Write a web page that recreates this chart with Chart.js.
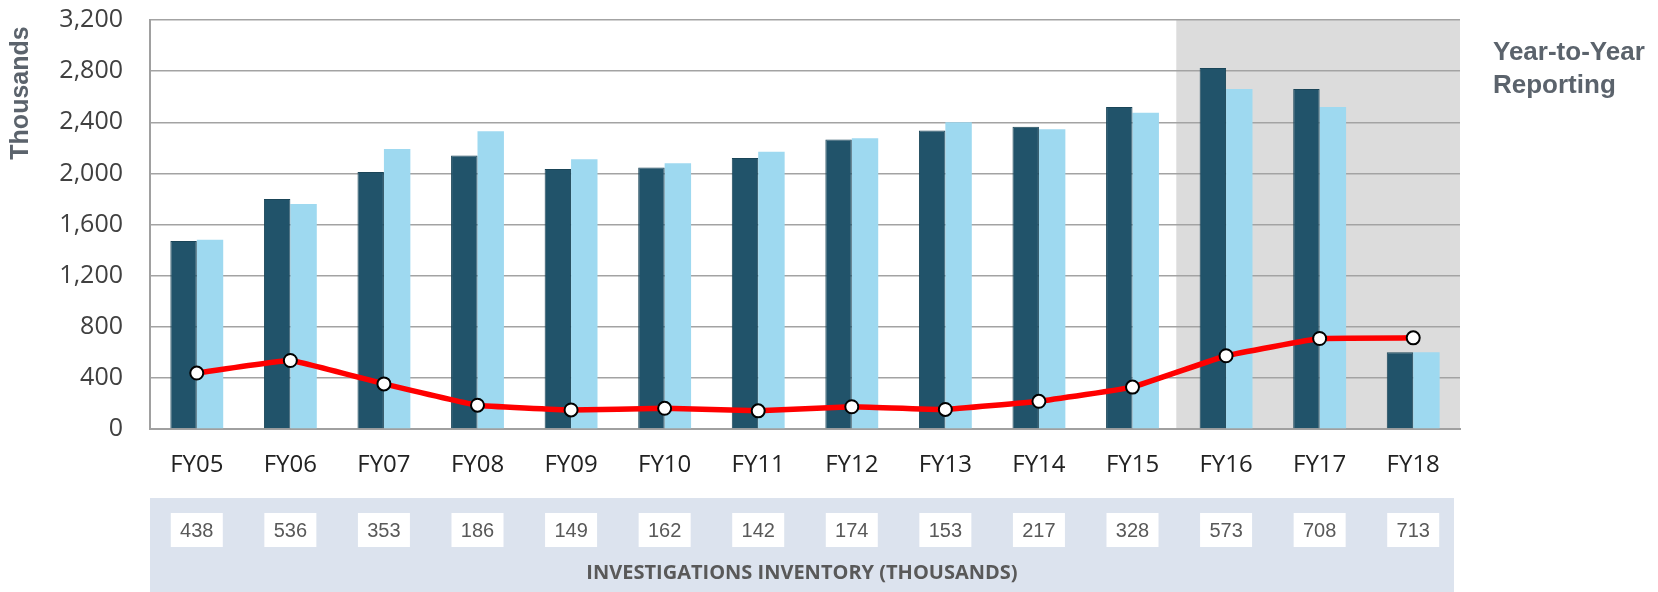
<!DOCTYPE html>
<html>
<head>
<meta charset="utf-8">
<script src="https://cdn.jsdelivr.net/npm/chart.js@4.4.1/dist/chart.umd.min.js"></script>
<style>
  html, body { margin:0; padding:0; background:#fff; }
  #wrap { width:1658px; height:592px; position:relative; }
</style>
</head>
<body>
<div id="wrap"><canvas id="chart"></canvas></div>
<script>
/* ---- data ---- */
const years      = ['FY05','FY06','FY07','FY08','FY09','FY10','FY11','FY12','FY13','FY14','FY15','FY16','FY17','FY18'];
const receipts   = [1470, 1800, 2010, 2140, 2035, 2045, 2120, 2265, 2335, 2365, 2520, 2825, 2660, 600];
const closures   = [1480, 1760, 2190, 2330, 2110, 2080, 2170, 2275, 2400, 2345, 2475, 2660, 2520, 600];
const inventory  = [438, 536, 353, 186, 149, 162, 142, 174, 153, 217, 328, 573, 708, 713];
const yTicks     = [0, 400, 800, 1200, 1600, 2000, 2400, 2800, 3200];
const shadeFrom  = 'FY16';

const GREY_TXT = '#5b636c';

/* ---- extras: shaded block, side note, axis title, inventory strip ---- */
const decor = {
  id: 'decor',
  beforeDraw(chart) {
    const { ctx, chartArea: a, scales: { x } } = chart;
    const i  = years.indexOf(shadeFrom);
    const x0 = (x.getPixelForValue(i - 1) + x.getPixelForValue(i)) / 2 - 3;
    ctx.save();
    ctx.fillStyle = '#dcdcdc';
    ctx.fillRect(x0, a.top, a.right - x0, a.bottom - a.top);
    ctx.restore();
  },
  afterDraw(chart) {
    const { ctx, chartArea: a, scales: { x } } = chart;
    ctx.save();

    // Thousands (rotated)
    ctx.translate(21, 93);
    ctx.rotate(-Math.PI / 2);
    ctx.fillStyle = GREY_TXT;
    ctx.font = 'bold 25px "Liberation Sans", Arial, sans-serif';
    ctx.textAlign = 'center';
    ctx.textBaseline = 'middle';
    ctx.fillText('Thousands', 0, 0, 134);
    ctx.setTransform(1, 0, 0, 1, 0, 0);

    // side note
    ctx.font = 'bold 26px "Liberation Sans", Arial, sans-serif';
    ctx.textAlign = 'left';
    ctx.textBaseline = 'alphabetic';
    ctx.fillText('Year-to-Year', a.right + 33, 60, 160);
    ctx.fillText('Reporting', a.right + 33, 93);

    // inventory strip
    const stripTop = 498;
    ctx.fillStyle = '#dce3ee';
    ctx.fillRect(a.left, stripTop, 1454 - a.left, 592 - stripTop);

    ctx.font = '20px "Liberation Sans Narrow", "Liberation Sans", Arial, sans-serif';
    ctx.textAlign = 'center';
    ctx.textBaseline = 'middle';
    inventory.forEach((v, i) => {
      const cx = x.getPixelForValue(i);
      ctx.fillStyle = '#ffffff';
      ctx.fillRect(cx - 26, 513, 52, 34);
      ctx.fillStyle = '#595959';
      ctx.fillText(String(v), cx, 531);
    });

    ctx.fillStyle = '#595959';
    ctx.font = 'bold 20px "Open Sans", "Noto Sans", sans-serif';
    ctx.fillText('INVESTIGATIONS INVENTORY (THOUSANDS)', (a.left + 1454) / 2, 573, 454);

    ctx.restore();
  }
};

new Chart(document.getElementById('chart'), {
  type: 'bar',
  data: {
    labels: years,
    datasets: [
      { type:'line', label:'Inventory', data: inventory, order: 0,
        borderColor:'#ff0000', borderWidth:5.5, tension:0.08,
        pointRadius:6.5, pointBackgroundColor:'#ffffff', pointBorderColor:'#000000', pointBorderWidth:2 },
      { label:'Receipts', data: receipts, order: 1, backgroundColor:'#21536a',
        borderColor:'#1a4558', borderWidth:{ top:1, left:1, right:1, bottom:0 },
        categoryPercentage:0.565, barPercentage:1 },
      { label:'Closures', data: closures, order: 2, backgroundColor:'#9ed9f0',
        categoryPercentage:0.565, barPercentage:1 }
    ]
  },
  options: {
    responsive:true, maintainAspectRatio:false, animation:false,
    layout:{ padding:{ left:0, top:20, right:198, bottom:0 } },
    plugins:{ legend:{ display:false }, tooltip:{ enabled:false } },
    scales:{
      x:{
        grid:{ display:false },
        border:{ display:true, color:'#a0a0a0', width:2 },
        ticks:{ color:'#222', padding:14, font:{ family:'"Open Sans", "Noto Sans", sans-serif', size:24 } },
        afterFit(s) { s.height = 163; s.paddingLeft = 0; s.paddingRight = 0; }
      },
      y:{
        min:0, max:3200,
        afterBuildTicks(s) { s.ticks = yTicks.map(v => ({ value:v })); },
        grid:{ color:'#a3a3a3', lineWidth:1.5, drawTicks:false },
        border:{ display:true, color:'#a0a0a0', width:2 },
        ticks:{ color:'#404040', padding:27,
                font:{ family:'"Open Sans", "Noto Sans", sans-serif', size:25 },
                callback:v => v.toLocaleString('en-US') },
        afterFit(s) { s.width = 150; s.paddingTop = 0; s.paddingBottom = 0; }
      }
    }
  },
  plugins:[decor]
});
</script>
</body>
</html>
